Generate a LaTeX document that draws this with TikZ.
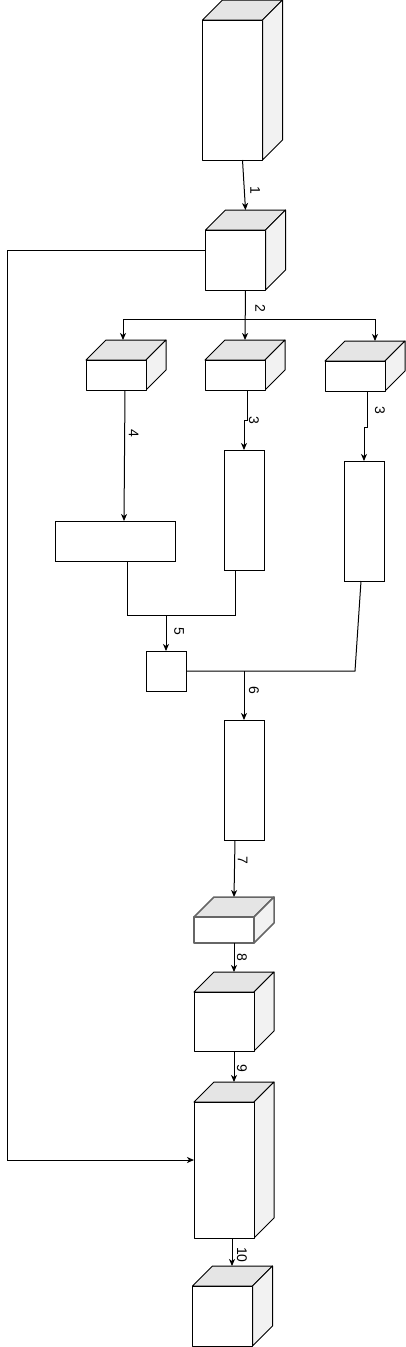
\documentclass[tikz,border=0pt]{standalone}
\usepackage{fontspec}
\setmainfont{Liberation Sans}
\usetikzlibrary{arrows.meta,positioning}

\begin{document}
\begin{tikzpicture}[x=1pt, y=-1pt,
  cube/.style={minimum width=80pt, inner sep=0pt, outer sep=0pt},
  blk/.style={draw, line width=1pt, inner sep=0pt, outer sep=0pt},
  face/.style={line width=1pt, line join=round},
  arr/.style={-{Stealth[length=7pt, width=6pt, inset=2pt]}, line width=1pt},
  wire/.style={line width=1pt},
  lbl/.style={font=\fontsize{14}{16}\selectfont, rotate=-90, inner sep=0pt}
]
\useasboundingbox (0,0) rectangle (406,1347);

% cuboids (node = full outline incl. depth)
\node[cube, minimum height=160pt] (src) at (242.5,80) {};
\node[cube, minimum height=80pt] (hub) at (245.5,250) {};
\node[cube, minimum height=50pt] (brL) at (126,365) {};
\node[cube, minimum height=50pt] (brM) at (245,365) {};
\node[cube, minimum height=50pt] (brR) at (365,366) {};
\node[cube, minimum height=46pt] (c8) at (234,920) {};
\node[cube, minimum height=79pt] (c9) at (234,1011.5) {};
\node[cube, minimum height=156pt] (c10) at (234,1160) {};
\node[cube, minimum height=80pt] (c11) at (232.5,1306) {};

\foreach \c/\ink/\lw in {src/black/1, hub/black/1, brL/black/1, brM/black/1, brR/black/1, c8/black!60/1.5, c9/black/1, c10/black/1, c11/black/1} {
  \filldraw[face, draw=\ink, line width=\lw pt, fill=black!10] ([yshift=-20pt]\c.north west) -- ([xshift=20pt]\c.north west) -- (\c.north east) -- ([xshift=-20pt, yshift=-20pt]\c.north east) -- cycle;
  \filldraw[face, draw=\ink, line width=\lw pt, fill=black!5] ([xshift=-20pt, yshift=-20pt]\c.north east) -- (\c.north east) -- ([yshift=20pt]\c.south east) -- ([xshift=-20pt]\c.south east) -- cycle;
  \filldraw[face, draw=\ink, line width=\lw pt, fill=white] ([yshift=-20pt]\c.north west) rectangle ([xshift=-20pt]\c.south east);
}

% plain blocks
\node[blk, minimum width=120pt, minimum height=40pt] (wide) at (115,541) {};
\node[blk, minimum width=40pt, minimum height=120pt] (tallM) at (244,510) {};
\node[blk, minimum width=40pt, minimum height=120pt] (tallR) at (364,521) {};
\node[blk, minimum width=40pt, minimum height=40pt] (merge) at (166,671) {};
\node[blk, minimum width=40pt, minimum height=120pt] (tall6) at (244,780) {};

% connectors (labels: yshift moves right once rotated)
\draw[arr] (src.south) -- (hub.north) node[lbl, pos=0.6, yshift=11pt]{1};
\draw[arr] (hub.south) -- (brM.north) node[lbl, pos=0.36, yshift=15pt]{2};
\draw[arr] (hub.south) ++(0,29) -| ([xshift=-3pt]brL.north);
\draw[arr] (hub.south) ++(0,29) -| ([xshift=10pt]brR.north);
\draw[arr] ([xshift=2pt]brM.south) -- ++(0,30) node[lbl, pos=1, yshift=7pt]{3} -| (tallM.north);
\draw[arr] ([xshift=2pt]brR.south) -- ++(0,36) node[lbl, pos=0.53, yshift=13pt]{3} -| (tallR.north);
\draw[arr] ([xshift=-1pt]brL.south) -- ([xshift=9pt]wide.north) node[lbl, pos=0.33, yshift=9pt]{4};
\draw[wire] ([xshift=12pt]wide.south) -- ++(0,54) -| ([xshift=-9pt]tallM.south);
\draw[arr] ([yshift=36pt]merge.north) -- (merge.north) node[lbl, pos=0.45, yshift=13pt]{5};
\draw[wire] (merge.east) -- ++(169,0) -- ([xshift=-3pt]tallR.south);
\draw[arr] (merge.east -| tall6.north) -- (tall6.north) node[lbl, pos=0.4, yshift=10pt]{6};
\draw[arr] ([xshift=-9pt]tall6.south) -- (c8.north) node[lbl, pos=0.35, yshift=8pt]{7};
\draw[arr] (c8.south) -- (c9.north) node[lbl, pos=0.5, yshift=8pt]{8};
\draw[arr] (c9.south) -- (c10.north) node[lbl, pos=0.55, yshift=8pt]{9};
\draw[arr] ([xshift=-2pt]c10.south) -- ([xshift=-0.5pt]c11.north) node[lbl, pos=0.6, yshift=10pt]{10};
\draw[arr] (hub.west) -- ++(-198,0) |- (c10.west);
\end{tikzpicture}
\end{document}
